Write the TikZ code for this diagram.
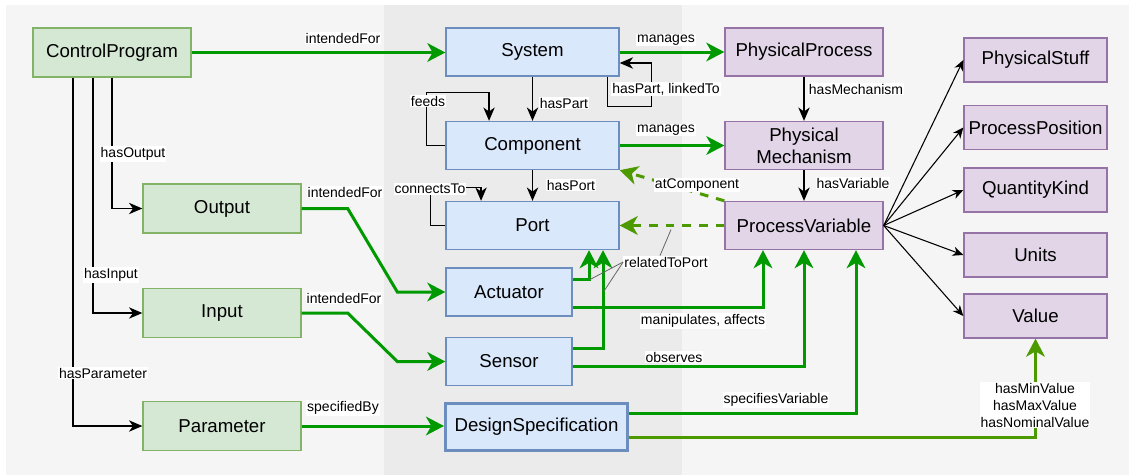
\documentclass[tikz,border=0pt]{standalone}
\usepackage{fontspec}
\setmainfont{Liberation Sans}
\usetikzlibrary{arrows.meta}
\definecolor{greenfill}{HTML}{D5E8D4}
\definecolor{greenline}{HTML}{82B366}
\definecolor{bluefill}{HTML}{DAE8FC}
\definecolor{blueline}{HTML}{6C8EBF}
\definecolor{purplefill}{HTML}{E1D5E7}
\definecolor{purpleline}{HTML}{9673A6}
\definecolor{flowgreen}{HTML}{009900}
\definecolor{olivegreen}{HTML}{4D9900}
\definecolor{bgouter}{HTML}{F5F5F5}
\definecolor{bgmiddle}{HTML}{EBEBEB}

\begin{document}
\begin{tikzpicture}[x=0.75pt,y=-0.75pt,
  box/.style={draw,line width=1pt,inner sep=0pt,align=center,font=\fontsize{14}{16.5}\selectfont},
  greenbox/.style={box,fill=greenfill,draw=greenline,minimum width=118.5pt,minimum height=36.75pt},
  bluebox/.style={box,fill=bluefill,draw=blueline,minimum width=129.75pt,minimum height=36pt},
  purplebox/.style={box,fill=purplefill,draw=purpleline,minimum width=118.5pt,minimum height=36pt},
  smallbox/.style={box,fill=purplefill,draw=purpleline,minimum width=107.25pt,minimum height=33pt},
  flow/.style={line width=2.25pt,draw=flowgreen,-{Stealth[length=13.5pt,width=14pt,inset=4pt]}},
  dflow/.style={flow,draw=olivegreen,dash pattern=on 6.5pt off 6pt},
  rel/.style={line width=1.1pt,-{Stealth[length=10pt,width=8.5pt,inset=3pt]}},
  fan/.style={line width=0.8pt,-{Stealth[length=8pt,width=7pt,inset=2.5pt]}},
  leader/.style={draw=black!60,line width=0.6pt},
  lbl/.style={fill=white,inner sep=0.75pt,align=center,font=\fontsize{10.5}{12.75}\selectfont}]
\useasboundingbox (0,0) rectangle (1130,475);
\fill[bgouter] (6,5) rectangle (1129,475);
\fill[bgmiddle] (384,5) rectangle (682,475);

\node[greenbox] (cp) at (112,52.5) {ControlProgram};
\node[greenbox] (out) at (222,208.5) {Output};
\node[greenbox] (in) at (222,313) {Input};
\node[greenbox] (par) at (222,426) {Parameter};
\node[bluebox] (sys) at (532.5,52) {System};
\node[bluebox] (comp) at (532.5,145.5) {Component};
\node[bluebox] (port) at (532.5,225.5) {Port};
\node[bluebox,minimum width=94.5pt] (act) at (509,292) {Actuator};
\node[bluebox,minimum width=94.5pt] (sens) at (509,361.5) {Sensor};
\node[bluebox,line width=2.25pt,minimum width=136.5pt,minimum height=35.25pt] (dspec) at (536.5,427) {DesignSpecification};
\node[purplebox] (pproc) at (804,52) {PhysicalProcess};
\node[purplebox] (pmech) at (804,145.5) {Physical\\Mechanism};
\node[purplebox] (pvar) at (804,225.5) {ProcessVariable};
\node[smallbox] (stuff) at (1035.5,60) {PhysicalStuff};
\node[smallbox] (ppos) at (1035.5,127.5) {ProcessPosition};
\node[smallbox] (qkind) at (1035.5,190) {QuantityKind};
\node[smallbox] (units) at (1035.5,255) {Units};
\node[smallbox] (value) at (1035.5,316) {Value};

\draw[flow] (cp.east) -- (cp.east -| sys.west);
\draw[rel] (cp.south) |- (out.west);
\draw[rel] ([xshift=-14.25pt]cp.south) |- (in.west);
\draw[rel] ([xshift=-29.25pt]cp.south) |- (par.west);
\draw[flow] (out.east) -- ++(46,0) -- ([xshift=-36pt]act.west) -- (act.west);
\draw[flow] (in.east) -- ++(46,0) -- ([xshift=-36pt]sens.west) -- (sens.west);
\draw[flow] (par.east) -- (par.east -| dspec.west);
\draw[flow] (sys.east) -- (pproc.west);
\draw[flow] (comp.east) -- (pmech.west);
\draw[rel] (sys) -- (comp);
\draw[rel] ([xshift=-9pt]sys.south east) |- ++(44,30) |- ([yshift=-8.25pt]sys.east);
\draw[rel] (comp.west) -| ++(-19,-53) -| ([xshift=-32.6pt]comp.north);
\draw[rel] (comp) -- (port);
\draw[rel] (port.west) -| ++(-15,-38) -| ([xshift=-38.6pt]port.north);
\draw[rel] (pproc) -- (pmech);
\draw[rel] (pmech) -- (pvar);
\draw[dflow] (pvar.north west) -- (comp.south east);
\draw[dflow] (pvar.west) -- (port.east);
\draw[flow] ([yshift=9.75pt]act.east) -| ([xshift=42.4pt]port.south);
\draw[flow] ([yshift=9.4pt]sens.east) -| ([xshift=52.9pt]port.south);
\draw[flow] ([yshift=-11.25pt]act.east) -| ([xshift=-30.75pt]pvar.south);
\draw[flow] ([yshift=-4.1pt]sens.east) -| (pvar.south);
\draw[flow] ([yshift=10.5pt]dspec.east) -| ([xshift=39pt]pvar.south);
\draw[flow,draw=olivegreen] ([yshift=-7.5pt]dspec.east) -| (value.south);
\foreach \t in {stuff,ppos,qkind,units,value}
  \draw[fan] (pvar.east) -- (\t.west);

\node[lbl] (lcpsys) at (343,38) {intendedFor};
\node[lbl] (lhasout) at (133,154) {hasOutput};
\node[lbl] (lhasin) at (111,275) {hasInput};
\node[lbl] (lhaspar) at (103,373) {hasParameter};
\node[lbl] (loutact) at (345,192) {intendedFor};
\node[lbl] (linsens) at (344,298) {intendedFor};
\node[lbl] (lspecby) at (343,408) {specifiedBy};
\node[lbl] (lmanages) at (666,40) {manages};
\node[lbl] (lmanages2) at (666,130) {manages};
\node[lbl] (lloop) at (666,89) {hasPart, linkedTo};
\node[lbl] (lhaspart) at (564,103) {hasPart};
\node[lbl] (lfeeds) at (428,101) {feeds};
\node[lbl] (lhasport) at (571,185) {hasPort};
\node[lbl] (lconn) at (430,189) {connectsTo};
\node[lbl] (latcomp) at (697,185) {atComponent};
\node[lbl] (lhasmech) at (856,89) {hasMechanism};
\node[lbl] (lhasvar) at (853,183) {hasVariable};
\node[lbl] (lrel) at (666,262) {relatedToPort};
\node[lbl] (lmanip) at (703,321) {manipulates, affects};
\node[lbl] (lobs) at (674,357) {observes};
\node[lbl] (lspecvar) at (776,400) {specifiesVariable};
\node[lbl] (lvalues) at (1035,405) {hasMinValue\\hasMaxValue\\hasNominalValue};
\draw[leader] (lrel.west) -- ++(-34,18);
\draw[leader] (lrel.west) -- ++(-19,29);
\draw[leader] ([xshift=-4.5pt]lrel.north) -- ++(11,-26);
\end{tikzpicture}
\end{document}
